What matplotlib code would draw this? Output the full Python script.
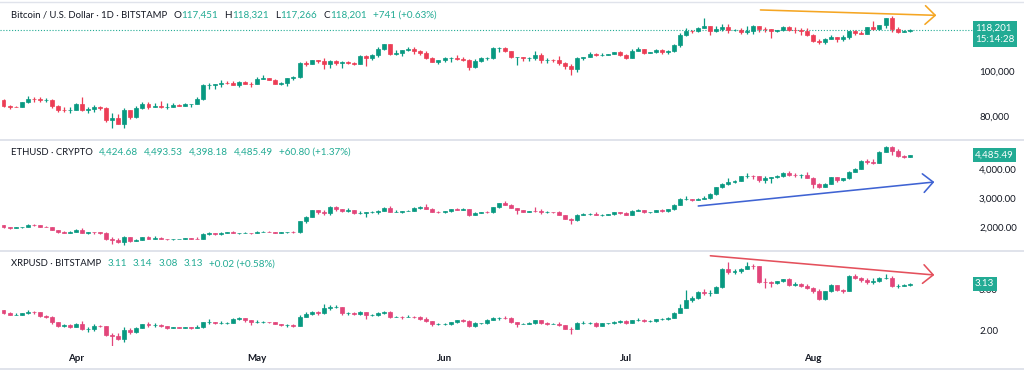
import numpy as np
import pandas as pd
import matplotlib
matplotlib.use('Agg')
import matplotlib.pyplot as plt
import matplotlib.dates as mdates
from matplotlib.lines import Line2D
from matplotlib.transforms import offset_copy, blended_transform_factory

plt.rcParams['font.family'] = ['Lato', 'DejaVu Sans']

# ---- data (daily candles, 20 Mar 2025 .. 17 Aug 2025), open = previous close ----
start_day = '2025-03-20'

# BTC in thousands of USD
btc_first_open = 86.85
btc_close = [84.17, 84.04, 83.83, 86.05, 87.50, 87.45, 86.90, 87.20, 84.35, 82.60, 82.35, 82.55,
             85.15, 82.50, 83.10, 83.85, 83.50, 78.20, 79.20, 76.30, 82.60, 79.60, 83.40, 85.30, 83.70, 84.50, 83.70,
             84.05, 84.90, 84.45, 85.05, 85.15, 87.50, 93.45, 93.70, 93.95, 94.70, 94.65, 93.75, 95.05, 94.30, 94.20,
             96.50, 96.90, 95.90, 94.30, 94.75, 96.85, 97.00, 103.20, 102.95, 104.65, 104.10, 102.80, 104.15, 103.50,
             103.75, 103.55, 103.15, 106.45, 105.60, 106.80, 109.65, 111.65, 107.30, 107.80, 109.00, 109.45, 108.95,
             107.75, 105.65, 103.95, 104.65,
             105.65, 105.80, 105.40, 104.70, 101.50, 104.40, 105.60, 105.75, 110.25, 110.25, 108.65, 105.90, 106.05,
             105.45, 105.55, 106.85, 104.55, 104.85, 104.65, 103.30, 102.20, 100.95, 105.60, 106.05, 107.30, 106.95,
             107.10, 107.35, 108.40, 107.15,
             105.70, 108.85, 109.60, 108.00, 108.25, 109.20, 108.25, 108.95, 111.30, 115.95, 117.50, 117.45, 119.10,
             119.85, 117.75, 118.65, 119.25, 117.90, 117.95, 117.30, 117.45, 120.00, 118.75, 118.35, 117.60, 117.90,
             119.45, 118.05, 117.95, 117.80, 115.75,
             113.30, 112.55, 114.20, 115.05, 114.15, 115.00, 117.50, 116.70, 116.50, 119.30, 118.70, 120.15, 123.30,
             118.35, 117.40, 117.45, 118.20]
btc_high = [87.45, 84.8, 84.5, 86.1, 88.75, 88.5, 88.3, 87.8, 87.5, 84.6, 83.9, 83.9,
            85.6, 88.5, 83.9, 84.7, 84.2, 83.8, 81.2, 80.8, 83.5, 82.7, 84.2, 85.9, 86.0, 85.8, 86.4, 85.5, 85.5,
            85.1, 85.6, 85.3, 88.5, 93.9, 94.7, 94.0, 95.8, 95.3, 95.3, 95.6, 95.5, 95.2,
            97.4, 97.9, 96.9, 96.3, 95.2, 96.9, 97.7, 103.9, 104.3, 104.9, 104.9, 105.8, 104.9, 104.7, 104.1, 104.5,
            103.7, 107.1, 107.1, 107.3, 110.7, 111.9, 111.8, 109.4, 109.1, 110.4, 110.7, 109.3, 108.9, 106.3, 104.9,
            105.9, 105.9, 106.8, 105.9, 105.0, 105.4, 105.9, 106.0, 110.5, 110.4, 110.4, 108.9, 106.2, 106.2, 106.0,
            108.9, 107.7, 105.6, 105.2, 106.5, 104.0, 103.0, 106.0, 106.3, 108.1, 108.0, 107.8, 107.6, 108.5, 108.8,
            107.5, 109.7, 110.5, 109.8, 108.4, 109.7, 109.7, 109.2, 111.9, 116.8, 118.8, 118.0, 119.5, 123.2, 119.9,
            119.8, 120.8, 120.9, 118.5, 118.9, 119.7, 120.2, 120.0, 119.5, 118.4, 118.3, 119.8, 119.8, 119.3, 118.8,
            118.9,
            116.1, 114.0, 114.7, 115.7, 115.1, 115.7, 117.6, 117.9, 117.6, 119.3, 122.3, 120.3, 123.6, 124.45, 119.2,
            117.9, 118.32]
btc_low = [83.65, 83.2, 83.65, 83.8, 85.5, 86.3, 85.9, 85.9, 83.6, 81.6, 81.6, 81.3,
           82.4, 82.3, 81.2, 81.7, 82.4, 77.2, 74.5, 76.2, 74.6, 78.5, 78.9, 82.8, 83.1, 83.7, 83.6, 83.1, 83.9,
           84.3, 84.3, 83.9, 85.1, 87.0, 91.8, 91.7, 92.9, 93.9, 93.6, 92.9, 93.9, 92.9,
           94.1, 96.3, 95.7, 94.0, 93.5, 93.4, 95.9, 96.9, 102.3, 102.8, 103.3, 100.8, 101.4, 102.6, 101.4, 103.1,
           102.6, 103.1, 102.0, 104.9, 106.1, 109.3, 106.8, 106.9, 106.7, 108.6, 107.6, 106.8, 105.4, 103.7, 103.1,
           103.9, 103.8, 104.9, 104.2, 100.4, 101.1, 103.9, 104.9, 105.4, 108.4, 108.1, 105.7, 102.7, 104.3, 104.5,
           104.9, 103.4, 103.6, 103.9, 102.4, 100.9, 98.2, 99.6, 104.6, 105.9, 106.6, 106.4, 106.9, 107.2, 106.7,
           105.2, 105.6, 108.7, 107.3, 107.8, 107.8, 107.5, 107.5, 108.4, 110.6, 115.2, 116.9, 117.3, 118.9, 115.8,
           117.4, 117.8, 116.8, 117.6, 116.5, 116.5, 116.2, 117.3, 117.4, 114.7, 117.2, 117.8, 117.5, 116.9, 115.8,
           115.5,
           112.7, 112.0, 112.0, 114.1, 112.7, 113.4, 114.3, 115.9, 116.3, 116.5, 118.1, 118.2, 118.9, 117.2, 116.8,
           117.2, 117.27]

eth_first_open = 2058
eth_close = [1984, 1966, 1983, 2006, 2081, 2069, 2011, 2003, 1896, 1827, 1806, 1823,
             1906, 1796, 1817, 1816, 1808, 1579, 1554, 1472, 1670, 1522, 1566, 1643, 1595, 1623, 1588, 1577, 1584,
             1588, 1614, 1587, 1578, 1757, 1795, 1769, 1786, 1820, 1794, 1799, 1799, 1793,
             1838, 1842, 1833, 1807, 1815, 1816, 1812, 2209, 2346, 2582, 2512, 2496, 2679, 2609, 2545, 2596, 2482,
             2497, 2524, 2527, 2550, 2665, 2524, 2530, 2549, 2562, 2651, 2681, 2631, 2530, 2527,
             2538, 2605, 2595, 2609, 2420, 2480, 2525, 2510, 2677, 2818, 2770, 2643, 2579, 2525, 2546, 2545, 2510,
             2522, 2519, 2408, 2293, 2229, 2417, 2442, 2452, 2413, 2421, 2433, 2500, 2486,
             2405, 2567, 2588, 2510, 2517, 2570, 2540, 2614, 2770, 2950, 2958, 2944, 2972, 3013, 3139, 3371, 3475,
             3545, 3592, 3756, 3763, 3749, 3627, 3705, 3718, 3745, 3871, 3794, 3791, 3809, 3700,
             3483, 3393, 3497, 3720, 3612, 3681, 3910, 4012, 4265, 4250, 4220, 4595, 4750, 4628, 4435, 4424, 4485.49]
eth_high = [2070, 2000, 2000, 2010, 2100, 2090, 2070, 2040, 2010, 1900, 1850, 1860,
            1920, 1950, 1840, 1830, 1820, 1815, 1640, 1620, 1690, 1670, 1580, 1660, 1690, 1680, 1650, 1600, 1600,
            1600, 1620, 1630, 1660, 1780, 1830, 1800, 1820, 1830, 1850, 1810, 1840, 1810,
            1870, 1870, 1850, 1840, 1830, 1820, 1850, 2220, 2390, 2600, 2600, 2580, 2740, 2720, 2620, 2650, 2600,
            2550, 2530, 2560, 2600, 2690, 2730, 2570, 2560, 2600, 2680, 2720, 2790, 2660, 2550,
            2550, 2610, 2660, 2640, 2630, 2520, 2530, 2540, 2690, 2830, 2880, 2780, 2640, 2580, 2560, 2680, 2610,
            2560, 2530, 2540, 2420, 2300, 2440, 2490, 2470, 2510, 2440, 2450, 2510, 2530,
            2500, 2590, 2630, 2600, 2520, 2580, 2620, 2620, 2800, 2990, 3060, 2970, 3010, 3060, 3160, 3390, 3520,
            3680, 3620, 3770, 3860, 3780, 3760, 3750, 3730, 3780, 3880, 3940, 3870, 3830, 3880,
            3720, 3500, 3500, 3740, 3730, 3700, 3920, 4050, 4300, 4330, 4330, 4620, 4790, 4790, 4690, 4480, 4493.53]
eth_low = [1960, 1945, 1965, 1970, 2000, 2040, 1990, 1990, 1880, 1810, 1780, 1780,
           1815, 1780, 1760, 1750, 1775, 1540, 1410, 1460, 1385, 1500, 1510, 1550, 1580, 1590, 1580, 1545, 1560,
           1575, 1580, 1570, 1570, 1570, 1740, 1720, 1740, 1780, 1790, 1745, 1785, 1745,
           1790, 1830, 1825, 1800, 1790, 1780, 1790, 1805, 2150, 2330, 2440, 2400, 2420, 2540, 2500, 2530, 2460,
           2450, 2330, 2470, 2460, 2540, 2510, 2500, 2470, 2540, 2540, 2610, 2620, 2510, 2490,
           2490, 2500, 2590, 2590, 2390, 2410, 2470, 2490, 2490, 2660, 2760, 2640, 2440, 2500, 2520, 2530, 2460,
           2470, 2490, 2400, 2270, 2110, 2200, 2400, 2410, 2400, 2390, 2410, 2420, 2460,
           2400, 2400, 2560, 2470, 2490, 2500, 2520, 2520, 2600, 2760, 2920, 2900, 2940, 2960, 2950, 3120, 3330,
           3450, 3520, 3580, 3700, 3640, 3540, 3500, 3530, 3700, 3730, 3770, 3710, 3690, 3680,
           3360, 3350, 3380, 3490, 3550, 3580, 3660, 3880, 4000, 4160, 4160, 4200, 4580, 4490, 4400, 4370, 4398.18]

xrp_first_open = 2.49
xrp_close = [2.43, 2.39, 2.39, 2.42, 2.45, 2.44, 2.35, 2.34, 2.20, 2.12, 2.13, 2.09,
             2.17, 2.04, 2.05, 2.12, 2.11, 1.90, 1.86, 1.80, 2.02, 1.98, 2.07, 2.15, 2.13, 2.14, 2.12, 2.07, 2.08,
             2.07, 2.08, 2.07, 2.08, 2.20, 2.21, 2.19, 2.19, 2.19, 2.29, 2.30, 2.25, 2.21,
             2.21, 2.21, 2.20, 2.16, 2.13, 2.13, 2.12, 2.34, 2.40, 2.44, 2.42, 2.54, 2.57, 2.58, 2.42, 2.42, 2.40,
             2.45, 2.37, 2.39, 2.42, 2.45, 2.33, 2.34, 2.33, 2.34, 2.33, 2.29, 2.24, 2.16, 2.16,
             2.17, 2.21, 2.25, 2.23, 2.12, 2.18, 2.18, 2.27, 2.30, 2.31, 2.30, 2.21, 2.17, 2.17, 2.18, 2.25, 2.19,
             2.17, 2.17, 2.13, 2.05, 2.04, 2.18, 2.19, 2.19, 2.12, 2.18, 2.18, 2.22, 2.24,
             2.18, 2.25, 2.27, 2.23, 2.24, 2.29, 2.29, 2.31, 2.42, 2.56, 2.74, 2.78, 2.94, 2.90, 2.92, 3.05, 3.50,
             3.41, 3.43, 3.50, 3.57, 3.56, 3.18, 3.17, 3.15, 3.19, 3.24, 3.10, 3.12, 3.08, 3.04,
             2.95, 2.77, 2.95, 3.10, 2.98, 2.97, 3.33, 3.27, 3.22, 3.18, 3.20, 3.27, 3.28, 3.07, 3.08, 3.11, 3.13]
xrp_high = [2.50, 2.45, 2.42, 2.43, 2.50, 2.47, 2.46, 2.38, 2.35, 2.20, 2.17, 2.17,
            2.19, 2.24, 2.08, 2.15, 2.13, 2.12, 1.95, 1.94, 2.08, 2.06, 2.09, 2.17, 2.20, 2.19, 2.16, 2.12, 2.10,
            2.09, 2.10, 2.09, 2.14, 2.22, 2.29, 2.22, 2.24, 2.22, 2.31, 2.33, 2.31, 2.27,
            2.25, 2.24, 2.22, 2.21, 2.17, 2.15, 2.15, 2.37, 2.45, 2.47, 2.48, 2.65, 2.62, 2.63, 2.58, 2.46, 2.44,
            2.48, 2.44, 2.41, 2.44, 2.47, 2.48, 2.36, 2.35, 2.37, 2.36, 2.35, 2.32, 2.24, 2.18,
            2.19, 2.22, 2.27, 2.28, 2.26, 2.20, 2.19, 2.28, 2.33, 2.34, 2.35, 2.33, 2.22, 2.19, 2.20, 2.27, 2.26,
            2.20, 2.19, 2.20, 2.14, 2.09, 2.20, 2.23, 2.22, 2.21, 2.19, 2.19, 2.23, 2.27,
            2.26, 2.27, 2.30, 2.28, 2.25, 2.29, 2.31, 2.34, 2.45, 2.64, 2.98, 2.83, 2.96, 3.00, 2.98, 3.08, 3.52,
            3.66, 3.48, 3.52, 3.65, 3.60, 3.57, 3.28, 3.19, 3.21, 3.26, 3.27, 3.17, 3.15, 3.12,
            3.06, 3.00, 2.97, 3.12, 3.10, 3.01, 3.35, 3.38, 3.30, 3.28, 3.28, 3.29, 3.37, 3.32, 3.12, 3.13, 3.14]
xrp_low = [2.40, 2.37, 2.37, 2.37, 2.40, 2.40, 2.33, 2.30, 2.17, 2.09, 2.08, 2.06,
           2.08, 2.02, 1.97, 2.00, 2.08, 1.87, 1.61, 1.78, 1.72, 1.93, 1.95, 2.06, 2.08, 2.10, 2.09, 2.05, 2.06,
           2.06, 2.06, 2.05, 2.06, 2.07, 2.17, 2.15, 2.16, 2.17, 2.18, 2.25, 2.22, 2.14,
           2.19, 2.19, 2.18, 2.15, 2.11, 2.08, 2.10, 2.11, 2.32, 2.38, 2.38, 2.40, 2.50, 2.54, 2.39, 2.38, 2.37,
           2.39, 2.29, 2.35, 2.36, 2.40, 2.30, 2.32, 2.28, 2.32, 2.30, 2.27, 2.22, 2.12, 2.13,
           2.14, 2.14, 2.19, 2.21, 2.10, 2.09, 2.15, 2.17, 2.25, 2.27, 2.29, 2.19, 2.08, 2.15, 2.16, 2.17, 2.16,
           2.14, 2.15, 2.11, 2.04, 1.91, 2.03, 2.16, 2.16, 2.10, 2.11, 2.15, 2.16, 2.18,
           2.17, 2.18, 2.23, 2.20, 2.21, 2.22, 2.25, 2.26, 2.31, 2.42, 2.59, 2.70, 2.76, 2.87, 2.85, 2.90, 3.03,
           3.38, 3.36, 3.40, 3.48, 3.50, 3.15, 3.02, 3.05, 3.13, 3.17, 3.08, 3.07, 3.05, 3.00,
           2.92, 2.73, 2.75, 2.93, 2.95, 2.91, 2.96, 3.25, 3.18, 3.13, 3.12, 3.17, 3.25, 3.05, 3.03, 3.07, 3.08]

# price scale ticks
btc_ticks = [80, 100, 120]
btc_tick_labels = ['80,000', '100,000', '120,000']
eth_ticks = [2000, 3000, 4000]
eth_tick_labels = ['2,000.00', '3,000.00', '4,000.00']
xrp_ticks = [2.0, 3.0]
xrp_tick_labels = ['2.00', '3.00']

# trend arrows drawn on the chart: (start date, start price, end date, end price)
btc_arrow = ('2025-07-23 07:00', 127.0, '2025-08-21 10:00', 124.6)
eth_arrow = ('2025-07-13 00:00', 2724, '2025-08-21 02:00', 3552)
xrp_arrow = ('2025-07-15 00:00', 3.81, '2025-08-21 02:00', 3.345)

# legend rows: (text, is_value)
btc_legend = [('Bitcoin / U.S. Dollar · 1D · BITSTAMP', False), ('O', False), ('117,451', True),
              ('H', False), ('118,321', True), ('L', False), ('117,266', True),
              ('C', False), ('118,201', True), ('+741 (+0.63%)', True)]
eth_legend = [('ETHUSD · CRYPTO', False), ('4,424.68', True), ('4,493.53', True), ('4,398.18', True),
              ('4,485.49', True), ('+60.80 (+1.37%)', True)]
xrp_legend = [('XRPUSD · BITSTAMP', False), ('3.11', True), ('3.14', True), ('3.08', True),
              ('3.13', True), ('+0.02 (+0.58%)', True)]

# ---- style ----
W, H = 1024, 374
UP = '#089981'
TEAL = '#22ab94'
TXT = '#131722'
SEP = '#e0e3eb'
TITLE_FS = 6.8
VAL_FS = 7.1
AXIS_FS = 7.0

fig = plt.figure(figsize=(W / 100, H / 100), dpi=100)
fig.patch.set_facecolor('white')


def px_axes(top, bottom):
    return fig.add_axes([0, 1 - bottom / H, 1, (bottom - top) / H])


n = len(btc_close)
assert len(btc_high) == n and len(btc_low) == n
assert len(eth_close) == n and len(eth_high) == n and len(eth_low) == n
assert len(xrp_close) == n and len(xrp_high) == n and len(xrp_low) == n

dates = pd.date_range(start_day, periods=n, freq='D')
x = mdates.date2num(dates)
x0 = x[0] - 0.58
x1 = x0 + 169.5


def candles(ax, first_open, close, high, low, down):
    close = np.array(close, dtype=float)
    opn = np.concatenate([[first_open], close[:-1]])
    high = np.maximum(np.array(high, dtype=float), np.maximum(opn, close))
    low = np.minimum(np.array(low, dtype=float), np.minimum(opn, close))
    cols = np.where(close >= opn, UP, down)
    ax.vlines(x, low, high, colors=cols, linewidth=0.9, zorder=2)
    ax.bar(x, close - opn, bottom=opn, width=0.66, color=cols, edgecolor=cols,
           linewidth=0.5, zorder=3)


def style(ax, ylim, ticks, labels):
    ax.set_xlim(x0, x1)
    ax.set_ylim(*ylim)
    for s in ax.spines.values():
        s.set_visible(False)
    ax.yaxis.tick_right()
    ax.set_yticks(ticks)
    ax.set_yticklabels(labels)
    ax.tick_params(axis='y', length=0, pad=-(W - 979) * 0.72, labelsize=AXIS_FS,
                   labelcolor=TXT, labelright=True, labelleft=False)
    ax.tick_params(axis='x', length=0, labelbottom=False)
    ax.set_facecolor('none')


def arrow(ax, spec, color):
    d0, p0, d1, p1 = spec
    ax.annotate('', xy=(mdates.date2num(pd.Timestamp(d1)), p1),
                xytext=(mdates.date2num(pd.Timestamp(d0)), p0),
                arrowprops=dict(arrowstyle='->,head_length=0.45,head_width=0.42', color=color,
                                lw=1.15, mutation_scale=16, shrinkA=0, shrinkB=0), zorder=4)


def price_box(ax, value, text, dy=0, va='center'):
    tr = blended_transform_factory(ax.transAxes, ax.transData)
    tr = offset_copy(tr, fig=fig, x=0, y=dy, units='dots')
    ax.text(975 / W, value, text, transform=tr, ha='left', va=va, color='white', fontsize=AXIS_FS,
            linespacing=1.35, zorder=6,
            bbox=dict(boxstyle='square,pad=0.25', facecolor=TEAL, edgecolor='none'))


def ann_after(prev, txt, color, gap, fs):
    return fig.axes[0].annotate(txt, xy=(1, 0.5), xycoords=prev, xytext=(gap, 0),
                                textcoords='offset pixels', ha='left', va='center',
                                color=color, fontsize=fs, annotation_clip=False)


ax_btc = px_axes(4, 139)
ax_eth = px_axes(141, 250)
ax_xrp = px_axes(252, 346)

candles(ax_btc, btc_first_open, btc_close, btc_high, btc_low, '#ec3d55')
candles(ax_eth, eth_first_open, eth_close, eth_high, eth_low, '#e2457a')
candles(ax_xrp, xrp_first_open, xrp_close, xrp_high, xrp_low, '#e2457a')

style(ax_btc, (69.65, 129.64), btc_ticks, btc_tick_labels)
style(ax_eth, (1207, 4965), eth_ticks, eth_tick_labels)
style(ax_xrp, (1.630, 3.901), xrp_ticks, xrp_tick_labels)

# month labels on the time axis (only months inside the data)
month_starts = mdates.date2num(dates[dates.day == 1])
ax_xrp.set_xticks(month_starts)
ax_xrp.xaxis.set_major_formatter(mdates.DateFormatter('%b'))
ax_xrp.tick_params(axis='x', length=0, labelbottom=True, labelsize=7.0, labelcolor=TXT, pad=6.0)
for lab in ax_xrp.get_xticklabels():
    lab.set_fontweight('bold')

# last price line on BTC
ax_btc.axhline(btc_close[-1], color=TEAL, lw=0.8, ls=(0, (1, 1.6)), xmax=972 / W, zorder=1)

arrow(ax_btc, btc_arrow, '#f5a623')
arrow(ax_eth, eth_arrow, '#3f63d3')
arrow(ax_xrp, xrp_arrow, '#e4505c')

price_box(ax_btc, btc_close[-1], '118,201\n15:14:28', dy=6.0, va='top')
price_box(ax_eth, eth_close[-1], '4,485.49')
price_box(ax_xrp, xrp_close[-1], '3.13')

# legends
for y_px, pieces in [(15, btc_legend), (152, eth_legend), (264, xrp_legend)]:
    t = fig.text(11 / W, 1 - y_px / H, pieces[0][0], color=TXT, fontsize=TITLE_FS, va='center', ha='left')
    for i in range(1, len(pieces)):
        txt, is_val = pieces[i]
        gap = 0.5 if pieces[i - 1][0] in ('O', 'H', 'L', 'C') else 6.0
        t = ann_after(t, txt, TEAL if is_val else TXT, gap, VAL_FS)

# panel separators
for y_px, lw in [(2, 1.0), (140, 1.4), (251, 1.4), (369, 1.4)]:
    fig.add_artist(Line2D([0, 1], [1 - y_px / H, 1 - y_px / H], color=SEP, lw=lw))

fig.savefig('out.png', dpi=100)
